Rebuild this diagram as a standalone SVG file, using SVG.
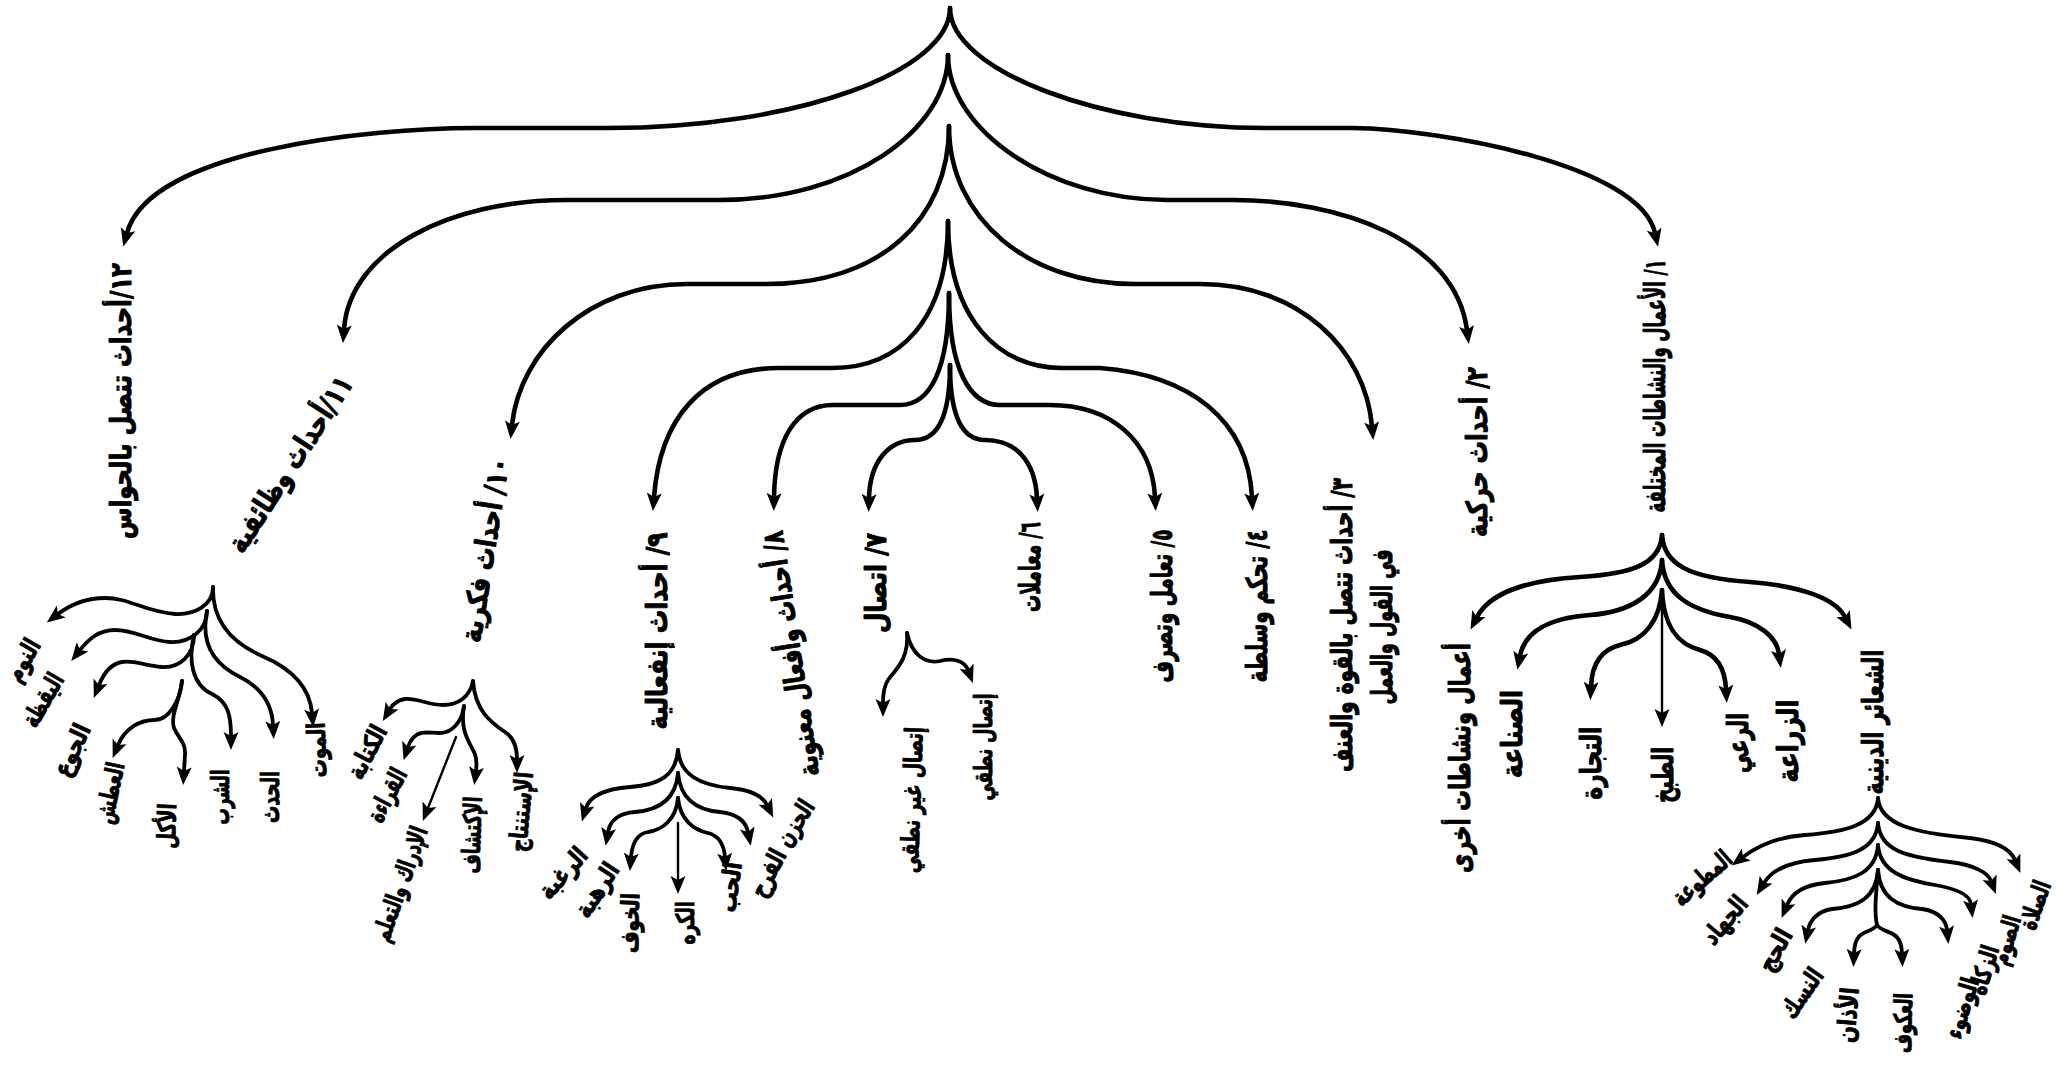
<svg xmlns="http://www.w3.org/2000/svg" width="2069" height="1065" viewBox="0 0 2069 1065">
<style>
.c{fill:none;stroke:#000;stroke-linecap:round;stroke-linejoin:round}
.w1{stroke-width:4.6}
.w2{stroke-width:3.8}
.w3{stroke-width:2.4}
.a{marker-end:url(#ah)}
text{font-family:"DejaVu Sans",sans-serif;font-weight:bold;fill:#000;stroke:#000;stroke-linejoin:round;text-anchor:middle;dominant-baseline:central;direction:rtl}
.t1{font-size:29px;stroke-width:1}
.t2{font-size:25px;stroke-width:0.9}
</style>
<defs>
<marker id="ah" markerUnits="userSpaceOnUse" markerWidth="20" markerHeight="16" refX="4" refY="7.5" orient="auto" overflow="visible">
<path d="M0,0 L18,7.5 L0,15 L4,7.5 Z" fill="#000"/>
</marker>
</defs>
<rect width="2069" height="1065" fill="#fff"/>
<g id="connectors">
<g class="c w1 a">
<path d="M950,8 C950,70 800,128 607,128 L475,128 C370,128 150,150 127,233"/>
<path d="M950,8 C950,70 1100,128 1266,128 L1352,128 C1440,129 1640,165 1655,233"/>
<path d="M948,55 C948,130 850,200 720,200 L567,200 C450,200 350,250 344,329"/>
<path d="M948,55 C948,130 1050,200 1167,200 L1233,200 C1340,200 1455,240 1467,330"/>
<path d="M949,126 C949,220 880,284 766,284 L687,284 C590,284 520,350 512,425"/>
<path d="M949,126 C949,220 1030,284 1134,284 L1200,284 C1300,284 1365,350 1372,426"/>
<path d="M948,221 C948,320 900,368 832,368 L779,368 C700,368 660,420 654,497"/>
<path d="M948,221 C948,320 1000,368 1061,368 L1100,368 C1190,375 1248,420 1252,497"/>
<path d="M949,293 C949,370 930,405 900,405 L833,405 C795,405 775,440 774,497"/>
<path d="M949,293 C949,370 970,405 1000,405 L1050,405 C1110,405 1152,440 1155,497"/>
<path d="M950,365 C950,410 940,440 915,440 C890,440 870,460 869,498"/>
<path d="M950,365 C950,410 960,440 985,440 C1015,440 1035,460 1037,498"/>
<path d="M1662,535 C1660,565 1630,574 1580,577 C1530,580 1490,592 1477,617"/>
<path d="M1662,560 C1660,595 1630,612 1590,615 C1550,618 1525,630 1520,656"/>
<path d="M1662,590 C1660,620 1645,640 1620,645 C1600,650 1592,665 1591,686"/>
<path d="M1662,590 C1664,630 1680,645 1700,650 C1718,655 1725,670 1726,689"/>
<path d="M1662,560 C1664,595 1690,610 1730,617 C1760,622 1777,638 1779,654"/>
<path d="M1662,535 C1664,565 1690,578 1750,582 C1800,586 1835,598 1845,617"/>
</g>
<g class="c w2 a">
<path d="M213,587 C213,605 195,615 175,614 C145,612 130,598 105,598 C85,598 70,605 58,614"/>
<path d="M207,611 C207,630 190,643 170,642 C150,641 135,630 115,630 C98,630 88,640 80,650"/>
<path d="M194,635 C194,655 180,668 162,667 C145,666 135,660 122,662 C110,664 103,675 99,685"/>
<path d="M182,681 C180,702 168,720 155,720 C140,720 125,728 118,745"/>
<path d="M182,681 C180,700 170,715 174,728 C178,738 186,742 185,755 L184,771"/>
<path d="M194,635 C188,660 192,685 212,694 C228,702 231,715 231,736"/>
<path d="M207,611 C200,645 215,665 240,677 C262,688 272,705 273,725"/>
<path d="M213,587 C212,620 230,642 262,656 C295,670 310,690 312,713"/>
<path d="M473,681 C470,697 458,705 443,705 C428,705 418,698 405,699 C398,700 393,704 390,709"/>
<path d="M464,706 C462,722 452,733 440,733 C428,733 420,730 413,738 C410,741 409,744 408,747"/>
<path d="M464,706 C460,730 468,740 474,752 C477,758 477,763 476,771"/>
<path d="M473,681 C475,710 490,722 505,732 C514,738 517,748 517,759"/>
<path d="M678,750 C676,775 660,785 630,787 C605,789 590,795 586,808"/>
<path d="M678,773 C676,798 660,810 635,812 C620,813 610,820 608,832"/>
<path d="M678,798 C676,820 662,830 648,832 C636,834 632,845 631,857"/>
<path d="M678,798 C680,820 694,830 708,833 C720,836 724,845 725,857"/>
<path d="M678,773 C680,797 695,810 720,812 C738,814 746,822 748,832"/>
<path d="M678,750 C680,775 700,785 730,788 C752,790 763,797 767,805"/>
<path d="M907,633 C909,660 895,670 888,680 C884,686 883,692 883,703"/>
<path d="M907,633 C912,655 925,664 940,661 C955,657 965,662 968,670"/>
<path d="M1878,798 C1876,825 1845,832 1805,835 C1775,837 1755,848 1743,857"/>
<path d="M1878,823 C1876,850 1850,857 1815,860 C1790,862 1772,870 1764,883"/>
<path d="M1878,845 C1876,872 1855,880 1825,883 C1805,885 1792,893 1787,905"/>
<path d="M1878,870 C1876,898 1858,907 1832,909 C1818,911 1810,920 1808,930"/>
<path d="M1878,870 C1876,895 1874,912 1877,925 C1870,935 1855,928 1854,953"/>
<path d="M1877,925 C1884,935 1901,928 1902,953"/>
<path d="M1878,870 C1880,898 1898,907 1922,909 C1938,911 1946,920 1947,930"/>
<path d="M1878,845 C1880,872 1905,880 1935,885 C1958,889 1970,895 1971,904"/>
<path d="M1878,823 C1880,850 1905,857 1950,862 C1975,865 1988,873 1991,881"/>
<path d="M1878,798 C1880,825 1915,833 1970,838 C1995,841 2010,848 2015,860"/>
</g>
<g class="c w3 a">
<path d="M456,737 L428,808"/>
<path d="M678,823 L678,880"/>
<path d="M1662,600 L1662,713"/>
</g>
</g>
<g id="n1"><text class="t1" transform="translate(1655,386) rotate(-90)" textLength="253" lengthAdjust="spacingAndGlyphs">١/ الأعمال والنشاطات المختلفة</text></g>
<g id="n2"><text class="t1" transform="translate(1477,452) rotate(-90)" textLength="170" lengthAdjust="spacingAndGlyphs">٢/ أحداث حركية</text></g>
<g id="n3"><text class="t1" transform="translate(1342,625) rotate(-90)" textLength="294" lengthAdjust="spacingAndGlyphs">٣/ أحداث تتصل بالقوة والعنف</text><text class="t1" transform="translate(1382,627) rotate(-90)" textLength="155" lengthAdjust="spacingAndGlyphs">في القول والعمل</text></g>
<g id="n4"><text class="t1" transform="translate(1257,606) rotate(-90)" textLength="153" lengthAdjust="spacingAndGlyphs">٤/ تحكم وسلطة</text></g>
<g id="n5"><text class="t1" transform="translate(1162,606) rotate(-90)" textLength="153" lengthAdjust="spacingAndGlyphs">٥/ تعامل وتصرف</text></g>
<g id="n6"><text class="t1" transform="translate(1030,567) rotate(-90)" textLength="90" lengthAdjust="spacingAndGlyphs">٦/ معاملات</text></g>
<g id="n7"><text class="t1" transform="translate(876,583) rotate(-90)" textLength="100" lengthAdjust="spacingAndGlyphs">٧/ اتصال</text></g>
<g id="n8"><text class="t1" transform="translate(791,654) rotate(-98.6)" textLength="248" lengthAdjust="spacingAndGlyphs">٨/ أحداث وأفعال معنوية</text></g>
<g id="n9"><text class="t1" transform="translate(657,631) rotate(-90)" textLength="197" lengthAdjust="spacingAndGlyphs">٩/ أحداث إنفعالية</text></g>
<g id="n10"><text class="t1" transform="translate(485,550) rotate(-81)" textLength="186" lengthAdjust="spacingAndGlyphs">١٠/ أحداث فكرية</text></g>
<g id="n11"><text class="t1" transform="translate(290,464) rotate(-57)" textLength="204" lengthAdjust="spacingAndGlyphs">١١/أحداث وظائفية</text></g>
<g id="n12"><text class="t1" transform="translate(121,401) rotate(-90)" textLength="276" lengthAdjust="spacingAndGlyphs">١٢/أحداث تتصل بالحواس</text></g>
<g id="n11-1"><text class="t2" transform="translate(23,660) rotate(-60)" textLength="45" lengthAdjust="spacingAndGlyphs">النوم</text></g>
<g id="n11-2"><text class="t2" transform="translate(43,700) rotate(-60)" textLength="58" lengthAdjust="spacingAndGlyphs">اليقظة</text></g>
<g id="n11-3"><text class="t2" transform="translate(72,750) rotate(-65)" textLength="55" lengthAdjust="spacingAndGlyphs">الجوع</text></g>
<g id="n11-4"><text class="t2" transform="translate(110,793) rotate(-78)" textLength="62" lengthAdjust="spacingAndGlyphs">العطش</text></g>
<g id="n11-5"><text class="t2" transform="translate(167,826) rotate(-88)" textLength="45" lengthAdjust="spacingAndGlyphs">الأكل</text></g>
<g id="n11-6"><text class="t2" transform="translate(220,797) rotate(-90)" textLength="55" lengthAdjust="spacingAndGlyphs">الشرب</text></g>
<g id="n11-7"><text class="t2" transform="translate(270,797) rotate(-90)" textLength="52" lengthAdjust="spacingAndGlyphs">الحدث</text></g>
<g id="n11-8"><text class="t2" transform="translate(317,750) rotate(-92)" textLength="55" lengthAdjust="spacingAndGlyphs">الموت</text></g>
<g id="n10-1"><text class="t2" transform="translate(367,752) rotate(-62)" textLength="57" lengthAdjust="spacingAndGlyphs">الكتابة</text></g>
<g id="n10-2"><text class="t2" transform="translate(387,795) rotate(-62)" textLength="57" lengthAdjust="spacingAndGlyphs">القراءة</text></g>
<g id="n10-3"><text class="t2" transform="translate(400,884) rotate(-70.5)" textLength="120" lengthAdjust="spacingAndGlyphs">الإدراك والتعلم</text></g>
<g id="n10-4"><text class="t2" transform="translate(472,835) rotate(-88)" textLength="77" lengthAdjust="spacingAndGlyphs">الإكتشاف</text></g>
<g id="n10-5"><text class="t2" transform="translate(521,812) rotate(-85)" textLength="80" lengthAdjust="spacingAndGlyphs">الإستنتاج</text></g>
<g id="n9-1"><text class="t2" transform="translate(563,873) rotate(-48)" textLength="60" lengthAdjust="spacingAndGlyphs">الرغبة</text></g>
<g id="n9-2"><text class="t2" transform="translate(597,890) rotate(-57)" textLength="60" lengthAdjust="spacingAndGlyphs">الرهبة</text></g>
<g id="n9-3"><text class="t2" transform="translate(630,923) rotate(-88)" textLength="60" lengthAdjust="spacingAndGlyphs">الخوف</text></g>
<g id="n9-4"><text class="t2" transform="translate(685,923) rotate(-90)" textLength="43" lengthAdjust="spacingAndGlyphs">الكره</text></g>
<g id="n9-5"><text class="t2" transform="translate(730,887) rotate(-82)" textLength="50" lengthAdjust="spacingAndGlyphs">الحب</text></g>
<g id="n9-6"><text class="t2" transform="translate(768,873) rotate(-62)" textLength="50" lengthAdjust="spacingAndGlyphs">الفرح</text></g>
<g id="n9-7"><text class="t2" transform="translate(795,823) rotate(-57)" textLength="50" lengthAdjust="spacingAndGlyphs">الحزن</text></g>
<g id="n7-1"><text class="t2" transform="translate(912,800) rotate(-88)" textLength="146" lengthAdjust="spacingAndGlyphs">إتصال غير نطقي</text></g>
<g id="n7-2"><text class="t2" transform="translate(983,747) rotate(-90)" textLength="107" lengthAdjust="spacingAndGlyphs">إتصال نطقي</text></g>
<g id="n1-1"><text class="t1" transform="translate(1460,758) rotate(-90)" textLength="230" lengthAdjust="spacingAndGlyphs">أعمال ونشاطات أخرى</text></g>
<g id="n1-2"><text class="t1" transform="translate(1512,734) rotate(-90)" textLength="88" lengthAdjust="spacingAndGlyphs">الصناعة</text></g>
<g id="n1-3"><text class="t1" transform="translate(1591,763) rotate(-90)" textLength="73" lengthAdjust="spacingAndGlyphs">التجارة</text></g>
<g id="n1-4"><text class="t1" transform="translate(1663,775) rotate(-90)" textLength="56" lengthAdjust="spacingAndGlyphs">الطبخ</text></g>
<g id="n1-5"><text class="t1" transform="translate(1738,743) rotate(-90)" textLength="60" lengthAdjust="spacingAndGlyphs">الرعي</text></g>
<g id="n1-6"><text class="t1" transform="translate(1788,741) rotate(-90)" textLength="83" lengthAdjust="spacingAndGlyphs">الزراعة</text></g>
<g id="n1-7"><text class="t1" transform="translate(1873,722) rotate(-90)" textLength="145" lengthAdjust="spacingAndGlyphs">الشعائر الدينية</text></g>
<g id="n1-7-1"><text class="t2" transform="translate(1702,878) rotate(-41)" textLength="70" lengthAdjust="spacingAndGlyphs">المطوعة</text></g>
<g id="n1-7-2"><text class="t2" transform="translate(1725,920) rotate(-50)" textLength="55" lengthAdjust="spacingAndGlyphs">الجهاد</text></g>
<g id="n1-7-3"><text class="t2" transform="translate(1775,950) rotate(-61)" textLength="45" lengthAdjust="spacingAndGlyphs">الحج</text></g>
<g id="n1-7-4"><text class="t2" transform="translate(1802,993) rotate(-55)" textLength="55" lengthAdjust="spacingAndGlyphs">النسك</text></g>
<g id="n1-7-5"><text class="t2" transform="translate(1848,1015) rotate(-85)" textLength="55" lengthAdjust="spacingAndGlyphs">الأذان</text></g>
<g id="n1-7-6"><text class="t2" transform="translate(1903,1023) rotate(-88)" textLength="60" lengthAdjust="spacingAndGlyphs">العكوف</text></g>
<g id="n1-7-7"><text class="t2" transform="translate(1962,1008) rotate(-73)" textLength="62" lengthAdjust="spacingAndGlyphs">الوضوء</text></g>
<g id="n1-7-8"><text class="t2" transform="translate(1984,970) rotate(-73)" textLength="50" lengthAdjust="spacingAndGlyphs">الزكاة</text></g>
<g id="n1-7-9"><text class="t2" transform="translate(2006,940) rotate(-73)" textLength="50" lengthAdjust="spacingAndGlyphs">الصوم</text></g>
<g id="n1-7-10"><text class="t2" transform="translate(2035,905) rotate(-70)" textLength="50" lengthAdjust="spacingAndGlyphs">الصلاة</text></g>
</svg>
